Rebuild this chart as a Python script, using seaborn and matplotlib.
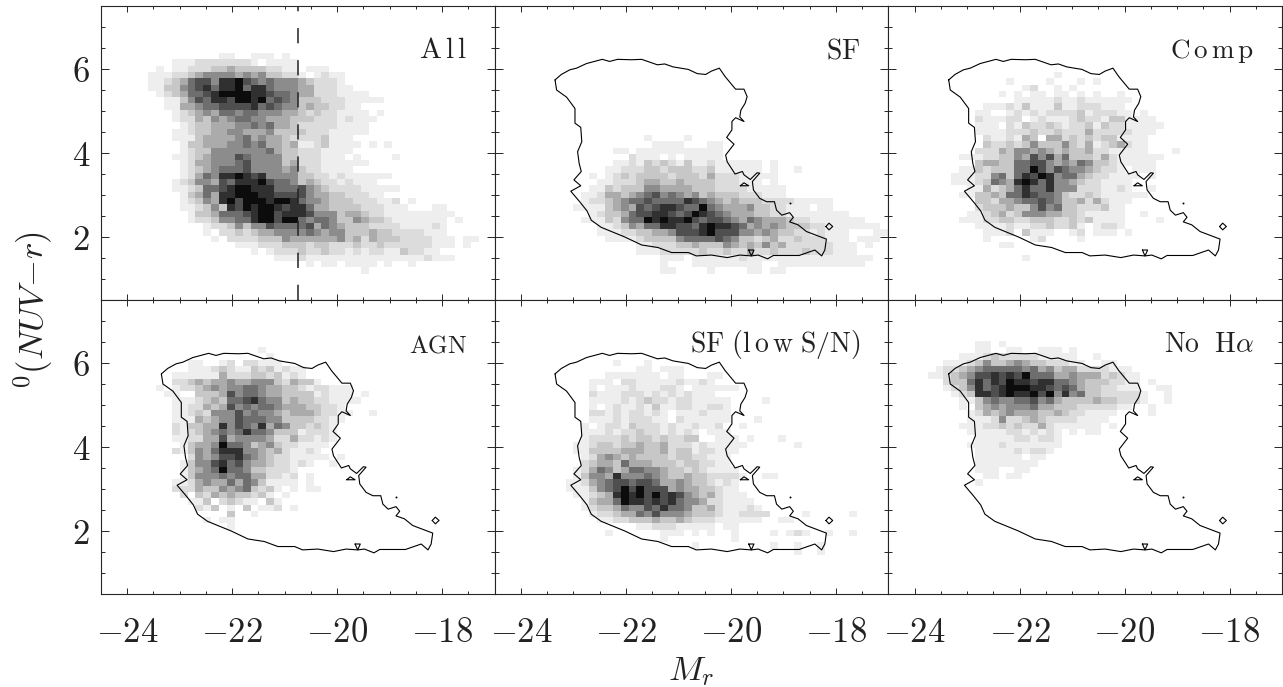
import numpy as np
import pandas as pd
import matplotlib
matplotlib.use('Agg')
import matplotlib.pyplot as plt
from matplotlib.colors import LinearSegmentedColormap
from matplotlib.ticker import MultipleLocator
import seaborn as sns

# grey level -> fraction of black
levels = [0, .07, .14, .22, .33, .45, .57, .69, .81, .95]

# histogram bins
x_edges = np.linspace(-24.5, -17.0, 51)
y_edges = 6.53 - 0.15 * np.arange(37)[::-1]

# each entry: row from the top, first column, grey levels ('.' = empty)
rows_all = [
    (1, 15, "11..111.1"), (2, 9, "11122222221.1111"), (3, 7, "1.1122233433332211.111"),
    (4, 6, "11122345555454533221.1211"), (5, 6, "1123467758897656555432221"),
    (6, 6, "11335678688968865554422211"), (7, 7, "123466789999887665442221111"),
    (8, 8, "1135768879989676533322211111"), (9, 8, "1144566777786765534332211"),
    (10, 9, "1234546656655544323221111.1"), (11, 9, "12243545665544433322212111"),
    (12, 10, "123344455656443222221111"), (13, 9, "1123344554445333322211111"),
    (14, 9, "11134444564544322223111"), (15, 10, "13344455656443411231111.1.1"),
    (16, 10, "1233555555564332221111"), (17, 9, "1123455576555533222111.1....1"),
    (18, 10, "124455567555534222111111"), (19, 10, "1234566675555453221111"),
    (20, 10, "124658898785555332212111111"), (21, 9, "12355476888976653432212111"),
    (22, 9, "11236678998886667543222211111"), (23, 10, "13464889998877775443322211"),
    (24, 10, "1235489799989986554333222112.1"),
    (25, 10, "11235387989987886443333222111...11"),
    (26, 11, "1334666789978887555344322111111111"),
    (27, 11, "122355668997996566533543321111111.1"),
    (28, 13, "1223535576666746543332222111121"), (29, 13, "1.22323445555654553334332222111"),
    (30, 14, "1.22223335444444534243332222111.11"), (31, 17, "1112223332332223223222222111.1"),
    (32, 19, "1.122232232212122113 2211".replace(" ", "")), (33, 22, "11121111111111111112111"),
    (34, 26, "1.11.1111.1..1"), (35, 33, "1"),
]

rows_sf = [
    (14, 19, "1....1"), (15, 20, "1111...11"), (16, 15, "11.11111111111"),
    (17, 17, "2111.1.11111"), (18, 15, "1121323213112111111.1"),
    (19, 14, "11222332333223111111.1..1"),
    (20, 12, "1.1232333323332422211111"),
    (21, 13, "112223443343333222111.1"),
    (22, 12, "1132333554444333222211111"),
    (23, 11, "11244345675654534333222111"),
    (24, 11, "12234566766668765434333222211111"),
    (25, 10, "111134547678876696544453322111.11"),
    (26, 12, "123346778876798765444332211111111"),
    (27, 11, "111325669898897677654654443221111111"),
    (28, 13, "112354668877689887645454333221111111"),
    (29, 13, "11122334457778977755454332212111...11"),
    (30, 14, "1111233335666676533234223222111.111"),
    (31, 18, "1122233433354343534222222111.1"),
    (32, 18, "1112222232232242232223222111"),
    (33, 21, "111.11111121111111111111111...1"),
    (34, 21, "1...111111111..11111111111"), (35, 21, "11....1....11.11"),
]

rows_comp = [
    (4, 21, "1"), (5, 15, "1....1...1.1"), (6, 17, "12..1.1"), (7, 14, "1.1.11.11.1.1..1"),
    (8, 16, "111112112111111"), (9, 12, "111213111311222111"),
    (10, 11, "11..1212122223122211.1"), (11, 11, "211122.1211123221331111"),
    (12, 11, "111.21322321223132211111"), (13, 11, "11112223223222422222111"),
    (14, 12, "2112143.4423232331111"), (15, 12, "322323533353241234211"),
    (16, 11, "2224355454343342211111...1"), (17, 9, "11122335475746333242111111"),
    (18, 11, "34433667754546533211111"), (19, 9, "113233366975765543221.111"),
    (20, 8, "111225636879856643221111.1"), (21, 8, "11123654898685543221111"),
    (22, 10, "114234686685552221121..1"), (23, 9, "113343668766532232111111"),
    (24, 11, "33244566765334242111"), (25, 11, "2333433575633222311"),
    (26, 10, "11234235554433211111..1"), (27, 9, "111223322333223231111....1"),
    (28, 11, "11112112232231.1221"), (29, 12, "1112.3111..12.111.1"),
    (30, 12, "1.....12....1"), (31, 14, "11"), (33, 17, "1"),
]

rows_agn = [
    (1, 20, "1"), (2, 21, "1"), (3, 11, "11..12.22111"),
    (4, 11, "111232113231211"), (5, 9, "11111142223323121"),
    (6, 9, "2234344544555324331"), (7, 7, "1.12234545566544332122111"),
    (8, 8, "11..33347566544333312111.1"), (9, 9, "111234366786553433221111"),
    (10, 9, "1122434756566544433221"), (11, 9, "11232555756554344432211..1"),
    (12, 9, "1114345576665533332211"), (13, 9, "213344857658465332321"),
    (14, 9, "212345656866533312221"), (15, 9, "112244745555422422121"),
    (16, 10, "1344596653453221111"), (17, 9, "2135468885543421121"),
    (18, 11, "254577865432211111.1"), (19, 10, "13557867544322121..1"),
    (20, 10, "134569665332221"), (21, 10, "135556566442212.1"),
    (22, 9, "1124544646531111.1"), (23, 9, "22243354563231.1.11"),
    (24, 10, "2.3243433231.1"), (25, 11, "113.23211.31"),
    (26, 12, "213.1.3.112.1"), (27, 16, "3..1"), (28, 13, "1.11"), (29, 16, "1"),
]

rows_low = [
    (3, 15, "1...1"), (4, 18, "11.111"), (5, 14, "1111111.11...11"),
    (6, 12, "111.221111121121"), (7, 12, "1.1112111221.111111"),
    (8, 12, "2111222121212111"), (9, 12, "111121232212211111....1"),
    (10, 12, "1.1211213112211221"), (11, 12, "2212122121.1112111"),
    (12, 12, "1112122211.2111111...1"), (13, 11, "1.1221322212112112..1"),
    (14, 11, "111212232212121.111"), (15, 11, "122223233232233..111.1...1"),
    (16, 10, "1123323343342221211111......1"),
    (17, 10, "113333444334233122111"), (18, 11, "1245434333323322111"),
    (19, 11, "2344364443332332211"), (20, 10, "124653466554332321111"),
    (21, 10, "13554855565433433222 21..11".replace(" ", "")),
    (22, 9, "1124567767764454332121"),
    (23, 9, "1113567979777454433211"),
    (24, 10, "1123489897978754342111"),
    (25, 11, "1344698878786554221111"),
    (26, 11, "12334655768665334211121"),
    (27, 12, "12234465755543332112222....1.....1"),
    (28, 13, "112233343343222111111..11"),
    (29, 18, "1122211111.11"),
    (30, 14, "1......111.1.1..1....1.121..1..1"), (31, 21, "1........1"),
    (32, 25, "1.........1..1..1"), (33, 38, "1..1"),
]

rows_noha = [
    (0, 11, "11.1"), (1, 11, "11..11..111.1"), (2, 9, "111232222211111..1"),
    (3, 7, "111235334543322 2 11..11".replace(" ", "")), (4, 6, "1223456666656453442222111"),
    (5, 5, "112345778787966644544423211"),
    (6, 7, "2336868798878866543332211.1"),
    (7, 7, "1235867899988767643322111..11"),
    (8, 8, "123887898897958563322222" + "1..1"),
    (9, 9, "113565566756433334332221..1"),
    (10, 9, "1.34545556443332222211..1"),
    (11, 10, "1243454443343221111....1"),
    (12, 10, "111252234322221111"),
    (13, 9, "111223232242111111.1"),
    (14, 10, "111112212121.1.11"), (15, 11, "11111221221"),
    (16, 10, "111121111111"), (17, 11, "1111121221"),
    (18, 11, "111111.11"), (19, 11, "11111111"), (20, 11, "111..11"), (21, 12, "11.11"), (22, 11, "1"),
]

panel_rows = [rows_all, rows_sf, rows_comp, rows_agn, rows_low, rows_noha]
panel_text = [r"$\mathrm{A\,l\,l}$", r"$\mathrm{SF}$", r"$\mathrm{C\,o\,m\,p}$", r"$\mathrm{AGN}$",
              r"$\mathrm{SF\ (l\,o\,w\ S/N)}$", r"$\mathrm{No\ \ H}\alpha$"]
panel_size = [21, 20, 19.5, 18, 20, 20]

# outer contour of the All sample
contour_x = [-23.35, -23.23, -23.07, -22.94, -22.75, -22.45, -22.31, -22.16, -21.89, -21.70, -21.40, -21.26,
             -21.10, -20.81, -20.64, -20.48, -20.37, -20.22, -20.11, -19.91, -19.75, -19.69, -19.73, -19.81,
             -19.83, -19.75, -19.91, -19.98, -19.98, -20.08, -19.94, -20.10, -20.07, -19.92, -19.78, -19.75,
             -19.63, -19.50, -19.45, -19.59, -19.57, -19.45, -19.32, -19.17, -19.13, -19.03, -18.88, -18.81,
             -18.88, -18.72, -18.56, -18.18, -18.21, -18.27, -18.40, -18.70, -19.19, -19.30, -19.48, -19.61,
             -19.83, -20.07, -20.37, -20.66, -20.81, -21.13, -21.39, -21.70, -22.02, -22.47, -22.66, -22.74,
             -22.88, -23.05, -22.86, -22.99, -22.85, -22.89, -22.92, -22.84, -22.86, -22.97, -22.97, -23.13,
             -23.32, -23.35]
contour_y = [5.74, 5.87, 5.98, 6.02, 6.13, 6.23, 6.18, 6.23, 6.22, 6.23, 6.10, 6.12,
             6.05, 5.99, 5.89, 5.87, 5.95, 6.02, 5.82, 5.52, 5.52, 5.34, 5.18, 5.02,
             4.86, 4.75, 4.84, 4.75, 4.55, 4.37, 4.21, 3.95, 3.79, 3.50, 3.56, 3.48,
             3.37, 3.53, 3.52, 3.32, 3.12, 2.92, 2.84, 2.84, 2.64, 2.52, 2.58, 2.47,
             2.36, 2.29, 2.13, 1.95, 1.69, 1.55, 1.69, 1.56, 1.56, 1.48, 1.57, 1.55,
             1.57, 1.51, 1.57, 1.55, 1.63, 1.63, 1.75, 1.81, 2.00, 2.23, 2.40, 2.62,
             2.84, 3.09, 3.22, 3.36, 3.56, 3.75, 4.03, 4.27, 4.61, 4.71, 5.06, 5.33,
             5.50, 5.74]

# small closed islands of the same contour
islands = [
    ([-19.82, -19.75, -19.66, -19.82], [3.22, 3.29, 3.22, 3.22]),
    ([-18.19, -18.13, -18.06, -18.13, -18.19], [2.25, 2.33, 2.25, 2.17, 2.25]),
    ([-19.66, -19.56, -19.61, -19.66], [1.69, 1.69, 1.55, 1.69]),
]
dot_x = [-18.88]
dot_y = [2.81]

split_mag = -20.75

x_ticks = [-24, -22, -20, -18]
y_ticks = [2, 4, 6]


def cells(rows):
    xs, ys, ws = [], [], []
    for row, col, text in rows:
        for k, ch in enumerate(text[:50 - col]):
            if ch != '.':
                xs.append(x_edges[col + k] + 0.075)
                ys.append(y_edges[35 - row] + 0.075)
                ws.append(levels[int(ch)])
    return pd.DataFrame({'mag': xs, 'color': ys, 'grey': ws})


sns.set_theme(style='ticks', rc={'mathtext.fontset': 'cm', 'axes.linewidth': 0.8})
grey_map = LinearSegmentedColormap.from_list('grey', ['white', 'black'])

fig, axes = plt.subplots(2, 3, figsize=(12.83, 6.87), dpi=100, sharex=True, sharey=True)
fig.subplots_adjust(left=101 / 1283, right=1282 / 1283, top=1 - 6 / 687, bottom=1 - 594 / 687,
                    wspace=0, hspace=0)

for i, ax in enumerate(axes.flat):
    df = cells(panel_rows[i])
    sns.histplot(data=df, x='mag', y='color', weights='grey', bins=[x_edges, y_edges],
                 cmap=grey_map, vmin=0, vmax=1, cbar=False, ax=ax)

    if i == 0:
        ax.axvline(split_mag, color='#222222', lw=1.1, dashes=(10, 11))
    else:
        sns.lineplot(x=contour_x, y=contour_y, sort=False, estimator=None, color='black', lw=0.8, ax=ax)
        for ix, iy in islands:
            sns.lineplot(x=ix, y=iy, sort=False, estimator=None, color='black', lw=0.8, ax=ax)
        sns.scatterplot(x=dot_x, y=dot_y, color='black', s=2, linewidth=0, ax=ax)

    ax.text(-17.53, 6.26, panel_text[i], ha='right', va='baseline', fontsize=panel_size[i], color='#222222')

    ax.set_xlim(-24.5, -17.0)
    ax.set_ylim(0.5, 7.5)
    ax.set_xlabel('')
    ax.set_ylabel('')
    ax.set_xticks(x_ticks)
    ax.set_yticks(y_ticks)
    ax.set_xticklabels([r'$-%d$' % abs(v) for v in x_ticks])
    ax.set_yticklabels([r'$%d$' % v for v in y_ticks])
    ax.xaxis.set_minor_locator(MultipleLocator(0.5))
    ax.yaxis.set_minor_locator(MultipleLocator(0.5))
    ax.tick_params(axis='x', which='major', direction='in', top=True, bottom=True, length=4, width=0.7,
                   labelsize=25, pad=15, labelcolor='#222222')
    ax.tick_params(axis='x', which='minor', direction='in', top=True, bottom=True, length=2.2, width=0.7)
    ax.tick_params(axis='y', which='major', direction='in', left=True, right=True, length=5.8, width=0.7,
                   labelsize=25, pad=8, labelcolor='#222222')
    ax.tick_params(axis='y', which='minor', direction='in', left=True, right=True, length=2.9, width=0.7)
    for s in ax.spines.values():
        s.set_visible(True)

fig.text(691.5 / 1283, 1 - 680 / 687, r'$M_r$', ha='center', va='baseline', fontsize=25, color='#222222')
fig.text(33 / 1283, 1 - 310 / 687, r'$^0(NUV\!-\!r)$', rotation=90, ha='center', va='center', fontsize=25,
         color='#222222')

fig.savefig('out.png', dpi=100)
